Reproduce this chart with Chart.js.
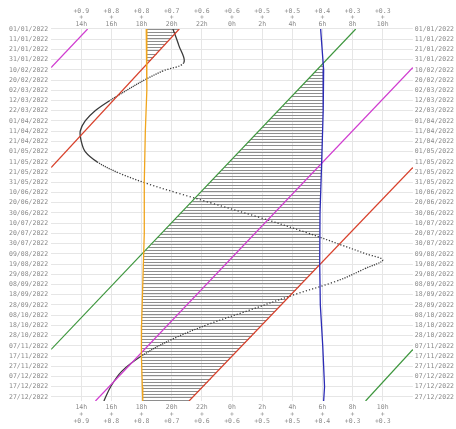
<!DOCTYPE html>
<html>
<head>
<meta charset="utf-8">
<script src="https://cdn.jsdelivr.net/npm/chart.js@4.4.1/dist/chart.umd.min.js"></script>
<style>
html,body{margin:0;padding:0;background:#fff;}
#wrap{width:456px;height:429px;}
</style>
</head>
<body>
<div id="wrap"><canvas id="c" width="456" height="429"></canvas></div>
<script>
// ---- tick labels ----
const hourTicks = [14,16,18,20,22,24,26,28,30,32,34];
const hourLabels = ['14h','16h','18h','20h','22h','0h','2h','4h','6h','8h','10h'];
const offsetLabels = ['+0.9','+0.8','+0.8','+0.7','+0.6','+0.6','+0.5','+0.5','+0.4','+0.3','+0.3'];
const dateLabels = ['01/01/2022','11/01/2022','21/01/2022','31/01/2022','10/02/2022','20/02/2022',
  '02/03/2022','12/03/2022','22/03/2022','01/04/2022','11/04/2022','21/04/2022','01/05/2022',
  '11/05/2022','21/05/2022','31/05/2022','10/06/2022','20/06/2022','30/06/2022','10/07/2022',
  '20/07/2022','30/07/2022','09/08/2022','19/08/2022','29/08/2022','08/09/2022','18/09/2022',
  '28/09/2022','08/10/2022','18/10/2022','28/10/2022','07/11/2022','17/11/2022','27/11/2022',
  '07/12/2022','17/12/2022','27/12/2022'];
const dateTickDays = [0,10,20,30,40,50,60,70,80,90,100,110,120,130,140,150,160,170,180,190,200,
  210,220,230,240,250,260,270,280,290,300,310,320,330,340,350,360];

// ---- series (day of year, hour; hours past 24 = next morning) ----
const sunsetDays  = [0,30,60,100,150,200,250,290,320,350,364];
const sunsetHours = [18.31,18.36,18.34,18.25,18.18,18.18,18.08,18.00,17.99,18.05,18.08];
const sunriseDays  = [0,40,80,130,180,230,270,310,350,364];
const sunriseHours = [29.88,30.08,30.05,29.95,29.84,29.82,29.86,30.02,30.14,30.08];
const riseDays  = [0,313.5,313.5,364];
const riseHours = [32.21,12,36,32.86];
const transitDays  = [0,37.7,37.7,364];
const transitHours = [14.42,12,36,14.94];
const setDays  = [0,135.5,135.5,364];
const setHours = [20.5,12,36,21.15];
const curveDays  = [0,16,33,41,50,60,70,80,90,100,110,120,130,140,150,160,170,185,200,212,220,226,234,246,260,275,290,305,320,335,350,364];
const curveHours = [20.08,20.47,20.80,19.42,18.18,17.01,15.90,14.92,14.26,13.93,14.00,14.26,15.05,16.35,18.12,20.27,22.56,25.96,29.10,31.38,32.89,34.00,32.89,31.06,28.12,25.18,22.24,19.82,17.99,16.68,15.95,15.50];

// split a series where it wraps around the 24h window (repeated day = wrap point)
function segments(days, hours){
  const segs = []; let cur = [];
  for (let i=0;i<days.length;i++){
    if (i>0 && days[i]===days[i-1]){ segs.push(cur); cur=[]; }
    cur.push({x:hours[i], y:days[i]});
  }
  segs.push(cur);
  return segs;
}
function valuesAt(days, hours, d){
  const out=[];
  for (let i=0;i<days.length-1;i++){
    const d0=days[i], d1=days[i+1], h0=hours[i], h1=hours[i+1];
    if (d1<=d0) continue;
    if (d>=d0 && d<=d1) out.push(h0+(h1-h0)*(d-d0)/(d1-d0));
  }
  return out;
}

const datasets = [];
function addLine(days, hours, color, width){
  segments(days, hours).forEach(seg => datasets.push({
    data: seg, showLine:true, borderColor:color, borderWidth:width, pointRadius:0, tension:0, fill:false
  }));
}
addLine(sunsetDays, sunsetHours, '#f0a51c', 1.3);
addLine(sunriseDays, sunriseHours, '#2b2bb5', 1.3);
addLine(riseDays, riseHours, '#3d963d', 1.2);
addLine(transitDays, transitHours, '#d03cd0', 1.2);
addLine(setDays, setHours, '#d8402b', 1.2);
datasets.push({
  data: curveDays.map((d,i)=>({x:curveHours[i], y:d})),
  showLine:true, borderColor:'#3a3a3a', borderWidth:1.3, pointRadius:0, tension:0.35, fill:false,
  segment:{
    borderDash: ctx => {
      const data = ctx.chart.data.datasets[ctx.datasetIndex].data;
      const a = data[ctx.p0DataIndex], b = data[ctx.p1DataIndex];
      const dd = Math.abs(b.y-a.y) || 1;
      const len = Math.hypot(ctx.p1.x-ctx.p0.x, ctx.p1.y-ctx.p0.y);
      const per = len/dd;
      return per < 1.8 ? [] : [1.2, per-1.2];
    }
  }
});

// hatch: object above horizon during the night
const hatchPlugin = {
  id:'hatch',
  beforeDatasetsDraw(chart){
    const {ctx, chartArea:ca} = chart;
    const xs = chart.scales.x, ys = chart.scales.y;
    ctx.save();
    ctx.beginPath(); ctx.rect(ca.left, ca.top, ca.right-ca.left, ca.bottom-ca.top); ctx.clip();
    ctx.strokeStyle = '#8e8e8e'; ctx.lineWidth = 1;
    for (let d=0; d<=364; d+=3){
      const O = valuesAt(sunsetDays, sunsetHours, d)[0];
      const B = valuesAt(sunriseDays, sunriseHours, d)[0];
      const R = valuesAt(riseDays, riseHours, d)[0];
      let S = valuesAt(setDays, setHours, d)[0];
      if ([O,B,R,S].some(v => v===undefined)) continue;
      if (S < R) S += 24;
      const y = Math.round(ys.getPixelForValue(d)) + 0.5;
      [-24,0,24].forEach(k => {
        const lo = Math.max(R+k, O), hi = Math.min(S+k, B);
        if (hi > lo){
          ctx.beginPath();
          ctx.moveTo(xs.getPixelForValue(lo), y);
          ctx.lineTo(xs.getPixelForValue(hi), y);
          ctx.stroke();
        }
      });
    }
    ctx.restore();
  }
};

const tickFont = {family:'DejaVu Sans Mono', size:6.5, lineHeight:1.05};
const tickColor = '#8a8a8a';
const gridColor = '#e6e6e6';
const xTicks = s => { s.ticks = hourTicks.map(v=>({value:v})); };
const yTicks = s => { s.ticks = dateTickDays.map(v=>({value:v})); };

new Chart(document.getElementById('c'), {
  type:'scatter',
  data:{datasets},
  plugins:[hatchPlugin],
  options:{
    responsive:false, animation:false, events:[],
    layout:{padding:{left:6, right:0, top:6.5, bottom:1.5}},
    plugins:{legend:{display:false}, tooltip:{enabled:false}},
    scales:{
      x:{type:'linear', position:'bottom', min:12, max:36, afterBuildTicks:xTicks,
        grid:{color:gridColor, drawTicks:false}, border:{display:false},
        ticks:{autoSkip:false, maxRotation:0, minRotation:0, padding:3, font:tickFont, color:tickColor,
          callback:(v)=>{const i=hourTicks.indexOf(v); return [hourLabels[i],'+',offsetLabels[i]];}}},
      x2:{type:'linear', position:'top', min:12, max:36, afterBuildTicks:xTicks,
        grid:{display:false, drawTicks:false}, border:{display:false},
        ticks:{autoSkip:false, maxRotation:0, minRotation:0, padding:1, font:tickFont, color:tickColor,
          callback:(v)=>{const i=hourTicks.indexOf(v); return [offsetLabels[i],'+',hourLabels[i]];}}},
      y:{type:'linear', position:'left', min:0, max:364, reverse:true, afterBuildTicks:yTicks,
        grid:{color:gridColor, drawTicks:false}, border:{display:false},
        ticks:{autoSkip:false, padding:3, font:tickFont, color:tickColor,
          callback:(v)=>dateLabels[dateTickDays.indexOf(v)]}},
      y2:{type:'linear', position:'right', min:0, max:364, reverse:true, afterBuildTicks:yTicks,
        grid:{display:false, drawTicks:false}, border:{display:false},
        ticks:{autoSkip:false, padding:2, font:tickFont, color:tickColor,
          callback:(v)=>dateLabels[dateTickDays.indexOf(v)]}}
    }
  }
});
</script>
</body>
</html>
